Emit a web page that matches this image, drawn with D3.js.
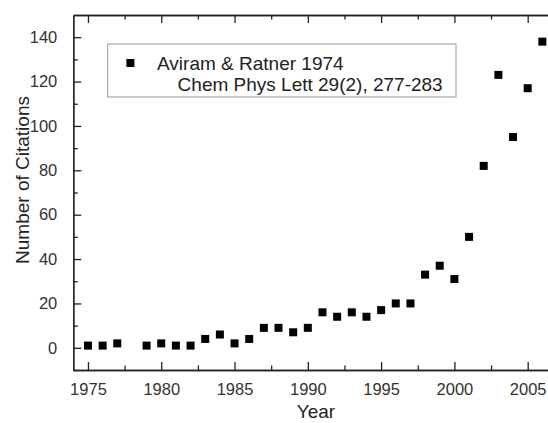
<!DOCTYPE html>
<meta charset="utf-8">
<style>
  body { margin: 0; background: #fff; }
  text { font-family: Arial, "Liberation Sans", sans-serif; fill: #222; }
</style>
<script src="https://d3js.org/d3.v7.min.js"></script>
<div id="chart"></div>
<script>

// citations per year (no point for 1978)
var years     = [1975, 1976, 1977, 1979, 1980, 1981, 1982, 1983, 1984, 1985, 1986, 1987, 1988, 1989, 1990,
                 1991, 1992, 1993, 1994, 1995, 1996, 1997, 1998, 1999, 2000, 2001, 2002, 2003, 2004, 2005, 2006];
var citations = [1, 1, 2, 1, 2, 1, 1, 4, 6, 2, 4, 9, 9, 7, 9,
                 16, 14, 16, 14, 17, 20, 20, 33, 37, 31, 50, 82, 123, 95, 117, 138];
var xTicks = [1975, 1980, 1985, 1990, 1995, 2000, 2005];
var yTicks = [0, 20, 40, 60, 80, 100, 120, 140];
var legendLines = ["Aviram & Ratner 1974", "Chem Phys Lett 29(2), 277-283"];

var width = 548, height = 423;

var svg = d3.select("#chart")
  .append("svg")
    .attr("width", width)
    .attr("height", height);

var x = d3.scaleLinear().domain([1974, 2007]).range([73.3, 557]);
var y = d3.scaleLinear().domain([-10, 150]).range([370, 15]);

var minorX = d3.range(1975, 2007, 2.5).filter(function(d) { return xTicks.indexOf(d) < 0; });
var minorY = d3.range(-10, 150, 10).filter(function(d) { return yTicks.indexOf(d) < 0; });

function styleAxis(g) {
  g.selectAll("path, line").attr("stroke", "#222").attr("stroke-width", 1.3);
  g.selectAll("text").style("font-size", "16.5px").style("fill", "#333");
}

// bottom axis, ticks inside
svg.append("g")
  .attr("transform", "translate(0," + y(-10) + ")")
  .call(d3.axisBottom(x).tickValues(xTicks).tickFormat(d3.format("d")).tickSizeInner(-8).tickSizeOuter(0).tickPadding(13))
  .call(styleAxis);
svg.append("g")
  .attr("transform", "translate(0," + y(-10) + ")")
  .call(d3.axisBottom(x).tickValues(minorX).tickFormat("").tickSizeInner(-4.5).tickSizeOuter(0))
  .call(styleAxis);

// top axis, no labels
svg.append("g")
  .attr("transform", "translate(0," + y(150) + ")")
  .call(d3.axisTop(x).tickValues(xTicks).tickFormat("").tickSizeInner(-8).tickSizeOuter(0))
  .call(styleAxis);
svg.append("g")
  .attr("transform", "translate(0," + y(150) + ")")
  .call(d3.axisTop(x).tickValues(minorX).tickFormat("").tickSizeInner(-4.5).tickSizeOuter(0))
  .call(styleAxis);

// left axis
svg.append("g")
  .attr("transform", "translate(" + x(1974) + ",0)")
  .call(d3.axisLeft(y).tickValues(yTicks).tickSizeInner(-8).tickSizeOuter(0).tickPadding(16))
  .call(styleAxis);
svg.append("g")
  .attr("transform", "translate(" + x(1974) + ",0)")
  .call(d3.axisLeft(y).tickValues(minorY).tickFormat("").tickSizeInner(-4.5).tickSizeOuter(0))
  .call(styleAxis);

// axis titles
svg.append("text")
  .attr("x", 316)
  .attr("y", 418)
  .attr("text-anchor", "middle")
  .style("font-size", "19px")
  .text("Year");

svg.append("text")
  .attr("transform", "translate(29,180)rotate(-90)")
  .attr("text-anchor", "middle")
  .style("font-size", "19px")
  .text("Number of Citations");

// points
var size = 8;
svg.selectAll("rect.pt")
  .data(years)
  .enter()
  .append("rect")
    .attr("class", "pt")
    .attr("x", function(d) { return x(d) - size / 2; })
    .attr("y", function(d, i) { return y(citations[i]) - size / 2; })
    .attr("width", size)
    .attr("height", size)
    .attr("fill", "#000");

// legend
var lg = svg.append("g");
lg.append("rect")
  .attr("x", 107.7).attr("y", 44)
  .attr("width", 348.3).attr("height", 53)
  .attr("fill", "#fff")
  .attr("stroke", "#999")
  .attr("stroke-width", 1);
lg.append("rect")
  .attr("x", 130.4 - size / 2).attr("y", 63 - size / 2)
  .attr("width", size).attr("height", size)
  .attr("fill", "#000");
lg.append("text")
  .attr("x", 157).attr("y", 69.5)
  .style("font-size", "19px")
  .text(legendLines[0]);
lg.append("text")
  .attr("x", 177.6).attr("y", 91)
  .style("font-size", "19px")
  .text(legendLines[1]);

</script>
